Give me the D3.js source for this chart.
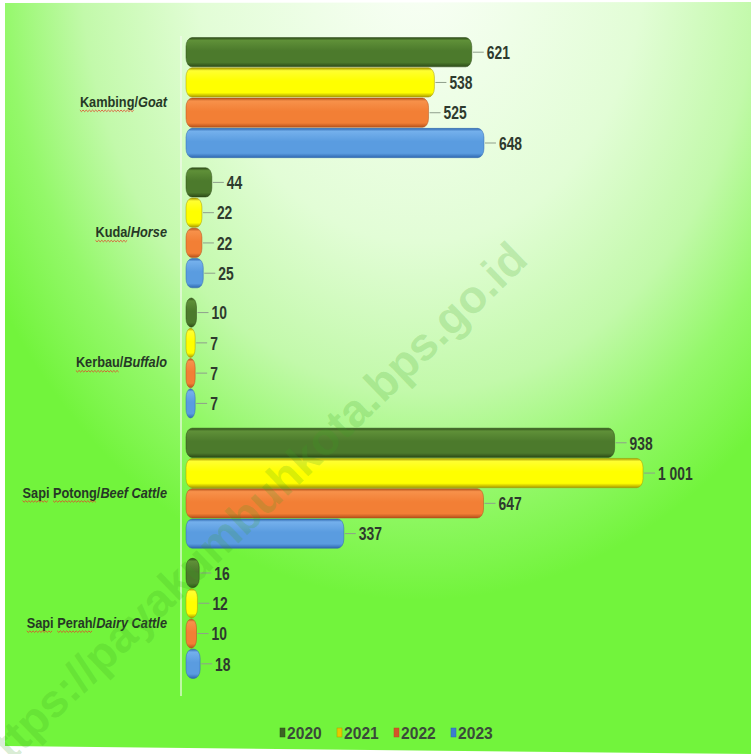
<!DOCTYPE html>
<html>
<head>
<meta charset="utf-8">
<script src="https://cdn.jsdelivr.net/npm/d3@7"></script>
<style>
  html, body { margin: 0; padding: 0; background: #ffffff; }
  svg { display: block; }
</style>
</head>
<body>
<div id="chart"></div>
<script>
// ---- data ----
const categoriesId = ["Kambing", "Kuda", "Kerbau", "Sapi Potong", "Sapi Perah"];
const categoriesEn = ["Goat", "Horse", "Buffalo", "Beef Cattle", "Dairy Cattle"];
const years = ["2020", "2021", "2022", "2023"];
const values2020 = [621, 44, 10, 938, 16];
const values2021 = [538, 22, 7, 1001, 12];
const values2022 = [525, 22, 7, 647, 10];
const values2023 = [648, 25, 7, 337, 18];
const seriesValues = [values2020, values2021, values2022, values2023];
const watermarkText = "https://payakumbuhkota.bps.go.id";

// ---- styles ----
const W = 751, H = 754;
const palette = [
  { base: "#4c7a2c", light: "#5f9038", dark: "#2c4a17", leg: "#3b6323" },
  { base: "#ffff00", light: "#ffff30", dark: "#a89a00", leg: "#e6c800" },
  { base: "#f27f35", light: "#f7914a", dark: "#b4501a", leg: "#d4532a" },
  { base: "#5a9ce0", light: "#74b0ec", dark: "#2f68b0", leg: "#3d7cd0" }
];
const fmt = d3.formatLocale({ decimal: ",", thousands: " ", grouping: [3], currency: ["", ""] }).format(",d");

const svg = d3.select("#chart").append("svg").attr("width", W).attr("height", H);
const defs = svg.append("defs");

// background gradient
const bg = defs.append("radialGradient").attr("id", "bg")
  .attr("gradientUnits", "userSpaceOnUse")
  .attr("cx", 420).attr("cy", -50).attr("r", 500)
  .attr("gradientTransform", "translate(420,-50) scale(1,1.3) translate(-420,50)");
[[0, "#fbfff9"], [0.45, "#e2fdd6"], [0.68, "#c2f9aa"], [0.84, "#94f86a"], [1, "#72f43c"]]
  .forEach(([o, c]) => bg.append("stop").attr("offset", o).attr("stop-color", c));

palette.forEach((p, i) => {
  const g = defs.append("linearGradient").attr("id", "bar" + i)
    .attr("x1", 0).attr("y1", 0).attr("x2", 0).attr("y2", 1);
  [[0, p.dark], [0.1, p.light], [0.45, p.base], [0.85, p.base], [1, p.dark]]
    .forEach(([o, c]) => g.append("stop").attr("offset", o).attr("stop-color", c));
});

svg.append("polygon")
  .attr("points", "5,3 751,2 751,754 5,746")
  .attr("fill", "url(#bg)");

// ---- scales ----
const y = d3.scaleBand().domain(d3.range(categoriesId.length))
  .range([32.5, 683.5]).paddingInner(0.07).paddingOuter(0.035);
const ySub = d3.scaleBand().domain(years).range([0, y.bandwidth()]).padding(0);
const x = d3.scaleLinear().domain([0, 1001]).range([188, 639]);

// axis line (vertical category axis)
svg.append("line")
  .attr("x1", 181).attr("x2", 181).attr("y1", 36).attr("y2", 696)
  .attr("stroke", "#f4faf0").attr("stroke-opacity", 0.85).attr("stroke-width", 1.4);

// ---- bars ----
const bars = svg.append("g");
categoriesId.forEach((cat, ci) => {
  years.forEach((yr, si) => {
    const v = seriesValues[si][ci];
    const y0 = y(ci) + ySub(yr);
    const h = ySub.bandwidth();
    const xEnd = x(v) + 4;
    const w = Math.max(xEnd - 186, 6);
    const gb = bars.append("g");
    gb.append("rect")
      .attr("x", 186).attr("y", y0 + 0.5)
      .attr("width", w).attr("height", h - 1)
      .attr("rx", Math.min(6, w / 2)).attr("ry", Math.min(9, h / 2))
      .attr("fill", "url(#bar" + si + ")")
      .attr("stroke", palette[si].dark).attr("stroke-width", 0.7).attr("stroke-opacity", 0.7);
    // leader line
    gb.append("line")
      .attr("x1", xEnd + 1).attr("x2", xEnd + 12)
      .attr("y1", y0 + h / 2).attr("y2", y0 + h / 2)
      .attr("stroke", "#8f9f8c").attr("stroke-width", 1);
    // value label
    gb.append("g")
      .attr("transform", `translate(${xEnd + 15},${y0 + h / 2}) scale(0.77,1)`)
      .append("text")
      .attr("dominant-baseline", "central")
      .attr("font-family", "'Liberation Sans', Arial, sans-serif")
      .attr("font-weight", "bold").attr("font-size", 18)
      .attr("fill", "#2e3a2e")
      .text(fmt(v));
  });
});

// ---- category labels ----
const labels = svg.append("g");
categoriesId.forEach((cat, ci) => {
  const cy = y(ci) + y.bandwidth() / 2 + 4;
  const g = labels.append("g").attr("transform", `translate(167,${cy}) scale(0.88,1)`);
  const t = g.append("text")
    .attr("text-anchor", "end").attr("dominant-baseline", "central")
    .attr("font-family", "'Liberation Sans', Arial, sans-serif")
    .attr("font-weight", "bold")
    .attr("font-size", 14.5).attr("fill", "#263826");
  t.append("tspan").text(cat + "/");
  t.append("tspan").attr("font-style", "italic").text(categoriesEn[ci]);
  // wavy underline under Indonesian words
  const total = t.node().getComputedTextLength();
  const start = -total;
  let idx = 0;
  cat.split(" ").forEach(word => {
    const off = idx === 0 ? 0 : t.node().getSubStringLength(0, idx);
    const len = t.node().getSubStringLength(idx, word.length);
    const x0 = start + off, x1 = x0 + len;
    let d = `M${x0},${8.5}`;
    let k = 0;
    for (let xx = x0 + 1.8; xx <= x1; xx += 1.8) {
      d += `L${xx},${k % 2 === 0 ? 10 : 8.5}`;
      k++;
    }
    g.append("path").attr("d", d).attr("fill", "none")
      .attr("stroke", "#e2452b").attr("stroke-width", 0.9);
    idx += word.length + 1;
  });
});

// ---- legend ----
const legend = svg.append("g");
const legX = d3.scalePoint().domain(years).range([280, 451]);
years.forEach((yr, i) => {
  const lx = legX(yr);
  legend.append("rect")
    .attr("x", lx).attr("y", 728).attr("width", 5).attr("height", 9)
    .attr("fill", palette[i].leg).attr("stroke", palette[i].dark).attr("stroke-width", 0.5);
  legend.append("g")
    .attr("transform", `translate(${lx + 7},733) scale(0.92,1)`)
    .append("text")
    .attr("dominant-baseline", "central")
    .attr("font-family", "'Liberation Sans', Arial, sans-serif")
    .attr("font-weight", "bold").attr("font-size", 17)
    .attr("fill", "#3a4a3a")
    .text(yr);
});

// ---- watermark ----
svg.append("text")
  .attr("transform", "translate(530,262) rotate(-44)")
  .attr("text-anchor", "end")
  .attr("font-family", "'Liberation Sans', Arial, sans-serif")
  .attr("font-weight", "bold").attr("font-size", 46)
  .attr("fill", "#3aa020").attr("fill-opacity", 0.2)
  .text(watermarkText);
</script>
</body>
</html>
